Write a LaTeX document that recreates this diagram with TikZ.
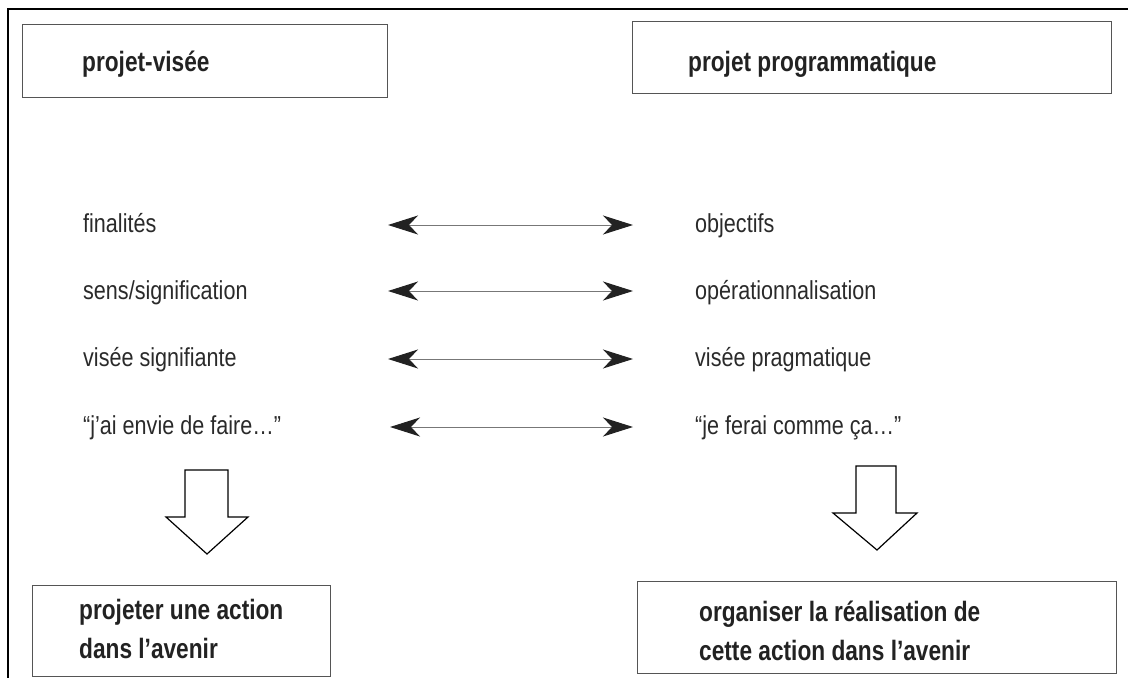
\documentclass[tikz,border=0pt]{standalone}
\usepackage{fontspec}
\setmainfont{Liberation Sans}
\newfontfamily\bodyfont{Liberation Sans}[FakeStretch=0.83]
\newfontfamily\headfont{Liberation Sans Bold}[FakeStretch=0.81]
\usetikzlibrary{arrows.meta}
\definecolor{txt}{HTML}{222222}
\definecolor{bodytxt}{HTML}{2A2A2A}
\definecolor{boxgray}{HTML}{555555}
\definecolor{linegray}{HTML}{777777}
\begin{document}
\begin{tikzpicture}[x=1pt,y=-1pt,
  boxnode/.style={draw=boxgray, line width=1.2pt, inner sep=0pt, anchor=north west},
  lbl/.style={anchor=base west, inner sep=0pt, font=\bodyfont\fontsize{26}{30}\selectfont, text=bodytxt},
  head/.style={anchor=base west, inner sep=0pt, font=\headfont\fontsize{28}{34}\selectfont, text=txt},
  dbl/.style={draw=linegray, line width=1pt,
    {Stealth[length=30pt,width=19pt,inset=9pt,color=txt]}-{Stealth[length=30pt,width=19pt,inset=9pt,color=txt]}},
  blockarrow/.style={draw=black, line width=1.2pt, fill=white, line join=miter},
  frameline/.style={draw=black, line width=2pt}
]
\useasboundingbox (0,0) rectangle (1128,678);
% outer frame (top and left sides visible)
\draw[frameline] (1128,9) -- (8,9) -- (8,678);

% top boxes
\node[boxnode, minimum width=365pt, minimum height=73pt] (boxVisee) at (22,24) {};
\node[boxnode, minimum width=479pt, minimum height=72pt] (boxProg) at (632,21) {};
\node[head] (tVisee) at (82,71) {projet-visée};
\node[head] (tProg) at (688,71) {projet programmatique};

% left column
\node[lbl] (l1) at (83,232) {finalités};
\node[lbl] (l2) at (83,299) {sens/signification};
\node[lbl] (l3) at (83,366) {visée signifiante};
\node[lbl] (l4) at (83,434) {“j’ai envie de faire…”};
% right column
\node[lbl] (r1) at (695,232) {objectifs};
\node[lbl] (r2) at (695,299) {opérationnalisation};
\node[lbl] (r3) at (695,366) {visée pragmatique};
\node[lbl] (r4) at (695,434) {“je ferai comme ça…”};

% double arrows
\coordinate (a1L) at (388,225); \coordinate (a1R) at (633,225);
\coordinate (a2L) at (388,291); \coordinate (a2R) at (633,291);
\coordinate (a3L) at (388,359); \coordinate (a3R) at (633,359);
\coordinate (a4L) at (390,427); \coordinate (a4R) at (633,427);
\draw[dbl] (a1L) -- (a1R);
\draw[dbl] (a2L) -- (a2R);
\draw[dbl] (a3L) -- (a3R);
\draw[dbl] (a4L) -- (a4R);

% block arrows
\draw[blockarrow] (185,470) -- (228,470) -- (228,517) -- (248,517) -- (207,554)
  -- (166,517) -- (185,517) -- cycle;
\draw[blockarrow] (856,466) -- (896,466) -- (896,513) -- (917,513) -- (877,550)
  -- (833,513) -- (856,513) -- cycle;

% bottom boxes
\node[boxnode, minimum width=298pt, minimum height=91pt] (boxAction) at (32,585) {};
\node[boxnode, minimum width=479pt, minimum height=92pt] (boxOrg) at (637,581) {};
\node[head] (b1) at (79,619) {projeter une action};
\node[head] (b2) at (79,658) {dans l’avenir};
\node[head] (c1) at (699,621) {organiser la réalisation de};
\node[head] (c2) at (699,660) {cette action dans l’avenir};
\end{tikzpicture}
\end{document}
